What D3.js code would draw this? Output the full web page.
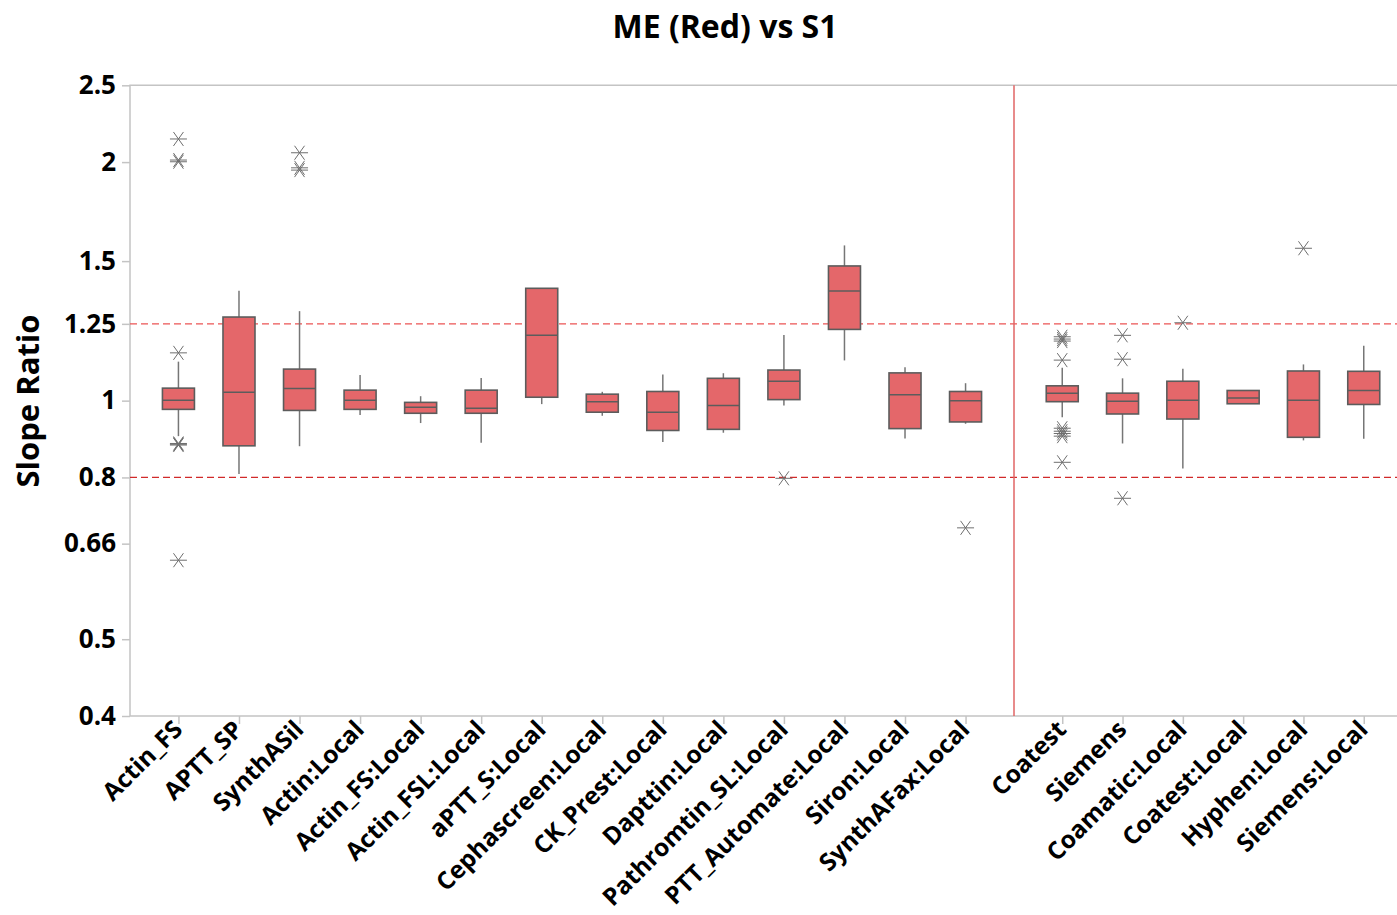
<!DOCTYPE html>
<html>
<head>
<meta charset="utf-8">
<script src="https://cdn.jsdelivr.net/npm/d3@7"></script>
<style>
  body { margin: 0; background: #fff; }
  svg text { font-family: 'Open Sans', sans-serif; font-weight: bold; fill: #000; }
</style>
</head>
<body>
<svg id="chart" width="1397" height="915"></svg>
<script>
// Data
const leftCategories = [
  'Actin_FS', 'APTT_SP', 'SynthASil', 'Actin:Local', 'Actin_FS:Local',
  'Actin_FSL:Local', 'aPTT_S:Local', 'Cephascreen:Local', 'CK_Prest:Local',
  'Dapttin:Local', 'Pathromtin_SL:Local', 'PTT_Automate:Local', 'Siron:Local',
  'SynthAFax:Local'
];
const rightCategories = [
  'Coatest', 'Siemens', 'Coamatic:Local', 'Coatest:Local', 'Hyphen:Local',
  'Siemens:Local'
];

const whiskerHigh = [1.120, 1.376, 1.297, 1.077, 1.013, 1.068, 1.386, 1.026, 1.079, 1.083, 1.210, 1.570, 1.102, 1.052,
  1.100, 1.067, 1.097, 1.030, 1.111, 1.173];
const q3 = [1.037, 1.275, 1.096, 1.031, 0.995, 1.031, 1.386, 1.019, 1.027, 1.067, 1.093, 1.479, 1.084, 1.027,
  1.044, 1.022, 1.058, 1.030, 1.090, 1.089];
const median = [1.001, 1.025, 1.036, 1.001, 0.981, 0.978, 1.209, 0.997, 0.967, 0.986, 1.058, 1.375, 1.017, 1.000,
  1.022, 0.998, 1.001, 1.008, 1.001, 1.030];
const q1 = [0.975, 0.877, 0.972, 0.975, 0.964, 0.964, 1.010, 0.967, 0.917, 0.920, 1.003, 1.230, 0.922, 0.940,
  0.997, 0.962, 0.948, 0.991, 0.899, 0.989];
const whiskerLow = [0.902, 0.808, 0.876, 0.959, 0.937, 0.885, 0.990, 0.957, 0.887, 0.911, 0.986, 1.124, 0.896, 0.935,
  0.953, 0.883, 0.821, 0.991, 0.891, 0.895];
const outliers = [
  [2.139, 2.012, 2.002, 1.149, 0.881, 0.883, 0.879, 0.629],
  [],
  [2.055, 1.967, 1.954],
  [], [], [], [], [], [], [],
  [0.798],
  [],
  [],
  [0.691],
  [1.204, 1.196, 1.189, 1.125, 0.923, 0.915, 0.909, 0.902, 0.836],
  [1.209, 1.128, 0.753],
  [1.254],
  [],
  [1.557],
  []
];

const yTicks = [0.4, 0.5, 0.66, 0.8, 1, 1.25, 1.5, 2, 2.5];
const refLines = [1.25, 0.8];

// Layout
const plotLeft = 130;
const plotTop = 85.3;
const plotBottom = 716;
const dividerX = 1014;
const plotRight = 1412;
const boxWidth = 32;

const svg = d3.select('#chart');

// Scales
const yScale = d3.scaleLog().domain([0.4, 2.5]).range([plotBottom, plotTop]);

const xLeft = d3.scalePoint().domain(leftCategories).range([plotLeft, dividerX]).padding(0.8);
const xRight = d3.scalePoint().domain(rightCategories).range([dividerX, plotRight]).padding(0.8);

function xPos(name) {
  return leftCategories.includes(name) ? xLeft(name) : xRight(name);
}

const allCategories = leftCategories.concat(rightCategories);
const boxData = allCategories.map(function (c, i) {
  return {
    name: c,
    lo: whiskerLow[i],
    q1: q1[i],
    med: median[i],
    q3: q3[i],
    hi: whiskerHigh[i],
    out: outliers[i],
  };
});

//Title
svg
  .append('text')
  .attr('x', 725)
  .attr('y', 38)
  .attr('text-anchor', 'middle')
  .style('font-size', '32px')
  .text('ME (Red) vs S1');

//Frame
svg
  .append('path')
  .attr('d', `M${plotRight},${plotTop}H${plotLeft}V${plotBottom}H${plotRight}`)
  .attr('fill', 'none')
  .attr('stroke', '#c4c4c4')
  .attr('stroke-width', 1.5);

//Y axis
const yAxis = d3
  .axisLeft(yScale)
  .tickValues(yTicks)
  .tickFormat(d => String(d))
  .tickSize(8)
  .tickPadding(6);

const yAxisG = svg
  .append('g')
  .attr('transform', `translate(${plotLeft},0)`)
  .call(yAxis);
yAxisG.select('.domain').remove();
yAxisG.selectAll('line').attr('stroke', '#c4c4c4').attr('stroke-width', 1.5);
yAxisG
  .selectAll('text')
  .style('font-size', '26px')
  .style('font-family', "'Open Sans', sans-serif")
  .style('font-weight', 'bold')
  .attr('fill', '#000');

svg
  .append('text')
  .attr('transform', 'translate(39, 401) rotate(-90)')
  .attr('text-anchor', 'middle')
  .style('font-size', '31px')
  .text('Slope Ratio');

//X axes (two panels)
function drawXAxis(scale) {
  const g = svg
    .append('g')
    .attr('transform', `translate(0,${plotBottom})`)
    .call(d3.axisBottom(scale).tickSize(8).tickSizeOuter(0).tickFormat(''));
  g.select('.domain').remove();
  g.selectAll('line').attr('stroke', '#c4c4c4').attr('stroke-width', 1.5);

  g.selectAll('.tick')
    .append('text')
    .attr('transform', 'translate(5, 15) rotate(-45)')
    .attr('text-anchor', 'end')
    .style('font-size', '24.5px')
    .text(d => d);
}
drawXAxis(xLeft);
drawXAxis(xRight);

//Reference lines
svg
  .selectAll('.refLine')
  .data(refLines)
  .enter()
  .append('line')
  .attr('class', 'refLine')
  .attr('x1', plotLeft)
  .attr('x2', plotRight)
  .attr('y1', d => yScale(d))
  .attr('y2', d => yScale(d))
  .attr('stroke', d => (d > 1 ? '#ec5454' : '#d12a2a'))
  .attr('stroke-width', 1.3)
  .attr('stroke-dasharray', '7,4');

// panel divider
svg
  .append('line')
  .attr('x1', dividerX)
  .attr('x2', dividerX)
  .attr('y1', plotTop)
  .attr('y2', plotBottom)
  .attr('stroke', '#e06464')
  .attr('stroke-width', 1.5);

//Draw Boxes
const boxes = svg
  .selectAll('.box')
  .data(boxData)
  .enter()
  .append('g')
  .attr('class', 'box')
  .attr('transform', d => `translate(${xPos(d.name)},0)`);

boxes
  .append('line')
  .attr('y1', d => yScale(d.hi))
  .attr('y2', d => yScale(d.q3))
  .attr('stroke', '#767676')
  .attr('stroke-width', 1.5);

boxes
  .append('line')
  .attr('y1', d => yScale(d.q1))
  .attr('y2', d => yScale(d.lo))
  .attr('stroke', '#767676')
  .attr('stroke-width', 1.5);

boxes
  .append('rect')
  .attr('x', -boxWidth / 2)
  .attr('width', boxWidth)
  .attr('y', d => yScale(d.q3))
  .attr('height', d => yScale(d.q1) - yScale(d.q3))
  .attr('fill', '#e4676a')
  .attr('stroke', '#5c5c5c')
  .attr('stroke-width', 1.6);

boxes
  .append('line')
  .attr('x1', -boxWidth / 2)
  .attr('x2', boxWidth / 2)
  .attr('y1', d => yScale(d.med))
  .attr('y2', d => yScale(d.med))
  .attr('stroke', '#5c5c5c')
  .attr('stroke-width', 1.5);

//Outliers (asterisks)
const starPath = 'M-8.5,0H8.5M-5,-7L5,7M5,-7L-5,7';

boxes
  .selectAll('.outlier')
  .data(d => d.out)
  .enter()
  .append('path')
  .attr('class', 'outlier')
  .attr('transform', d => `translate(0,${yScale(d)})`)
  .attr('d', starPath)
  .attr('fill', 'none')
  .attr('stroke', '#6e6e6e')
  .attr('stroke-width', 1);
</script>
</body>
</html>
